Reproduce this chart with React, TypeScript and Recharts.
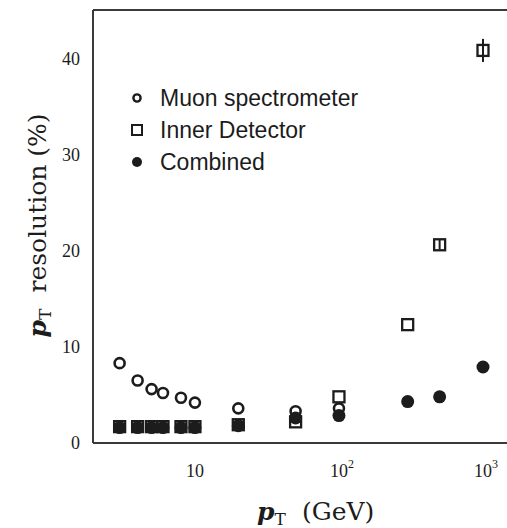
import {
  ErrorBar,
  ReferenceLine,
  Scatter,
  ScatterChart,
  XAxis,
  YAxis,
} from "recharts";

// transverse momentum (GeV) and resolution (%)
const msPt = [3, 4, 5, 6, 8, 10, 20, 50, 100];
const msRes = [8.3, 6.5, 5.6, 5.2, 4.7, 4.2, 3.6, 3.3, 3.6];

const idPt = [3, 4, 5, 6, 8, 10, 20, 50, 100, 300, 500, 1000];
const idRes = [1.7, 1.7, 1.7, 1.7, 1.7, 1.7, 1.9, 2.2, 4.8, 12.3, 20.6, 40.8];
const idErr = [0, 0, 0, 0, 0, 0, 0, 0, 0, 0, 0.5, 1.2];

const cbPt = [3, 4, 5, 6, 8, 10, 20, 50, 100, 300, 500, 1000];
const cbRes = [1.6, 1.6, 1.6, 1.6, 1.6, 1.6, 1.8, 2.6, 2.85, 4.3, 4.8, 7.9];

const xTicks = [10, 100, 1000];
const yTicks = [0, 10, 20, 30, 40];

const legendItems = [
  { name: "Muon spectrometer", kind: "open" },
  { name: "Inner Detector", kind: "square" },
  { name: "Combined", kind: "filled" },
];

const ms = msPt.map((pt, i) => ({ pt, res: msRes[i] }));
const id = idPt.map((pt, i) => ({ pt, res: idRes[i], err: idErr[i] }));
const cb = cbPt.map((pt, i) => ({ pt, res: cbRes[i] }));

const INK = "#1c1c1c";
const FRAME = "#3a3a3a";
const SERIF = "'Liberation Serif', 'Times New Roman', serif";
const TITLE = "'DejaVu Serif', serif";

function OpenCircle({ cx, cy }: any) {
  return <circle cx={cx} cy={cy} r={5} fill="none" stroke={INK} strokeWidth={2.6} />;
}

function OpenSquare({ cx, cy }: any) {
  return (
    <rect x={cx - 5.5} y={cy - 5.5} width={11} height={11} fill="none" stroke={INK} strokeWidth={2.3} />
  );
}

function FilledCircle({ cx, cy }: any) {
  return <circle cx={cx} cy={cy} r={6.5} fill={INK} />;
}

function XTick({ x, y, payload }: any) {
  const exp = Math.round(Math.log10(payload.value));
  return (
    <text x={x - 9} y={y} dy={32} fill={INK} fontFamily={SERIF} fontSize={18}>
      10
      {exp > 1 && (
        <tspan dy={-9} fontSize={12}>
          {exp}
        </tspan>
      )}
    </text>
  );
}

function XTitle({ viewBox }: any) {
  const x0 = viewBox.x + viewBox.width / 2 - 43;
  const y0 = viewBox.y + 77;
  return (
    <text x={x0} y={y0} fill={INK} fontFamily={TITLE} fontSize={25}>
      <tspan fontStyle="italic" fontWeight="bold">p</tspan>
      <tspan fontSize={17} dy={5}>T</tspan>
      <tspan x={x0 + 45} dy={-5}>(GeV)</tspan>
    </text>
  );
}

function YTitle({ viewBox }: any) {
  const cx = viewBox.x + 46;
  const cy = viewBox.y + viewBox.height / 2 + 111;
  return (
    <text transform={`translate(${cx},${cy}) rotate(-90)`} fill={INK} fontFamily={TITLE} fontSize={25}>
      <tspan fontStyle="italic" fontWeight="bold">p</tspan>
      <tspan fontSize={17} dy={5}>T</tspan>
      <tspan x={45} dy={-5}>resolution (%)</tspan>
    </text>
  );
}

function LegendBox() {
  return (
    <div
      style={{
        position: "absolute",
        left: 127,
        top: 82,
        fontFamily: "'Liberation Sans', Arial, sans-serif",
        fontSize: 23,
        color: INK,
      }}
    >
      {legendItems.map((item) => (
        <div key={item.name} style={{ display: "flex", alignItems: "center", height: 32 }}>
          <svg width={20} height={20} style={{ marginRight: 13 }}>
            {item.kind === "open" && (
              <circle cx={10} cy={10} r={3.6} fill="none" stroke={INK} strokeWidth={2.4} />
            )}
            {item.kind === "square" && (
              <rect x={5} y={5} width={10} height={10} fill="none" stroke={INK} strokeWidth={2} />
            )}
            {item.kind === "filled" && <circle cx={10} cy={10} r={5} fill={INK} />}
          </svg>
          <span>{item.name}</span>
        </div>
      ))}
    </div>
  );
}

export default function App() {
  return (
    <div
      style={{
        position: "absolute",
        left: 0,
        top: 0,
        width: 507,
        height: 528,
        overflow: "hidden",
        background: "#fff",
      }}
    >
      <ScatterChart width={507} height={528} margin={{ top: 10, right: 0, bottom: 0, left: 0 }}>
        <XAxis
          type="number"
          dataKey="pt"
          scale="log"
          domain={[1.96, 1468]}
          allowDataOverflow
          ticks={xTicks}
          tickLine={false}
          tickSize={0}
          height={85}
          axisLine={{ stroke: FRAME, strokeWidth: 2 }}
          tick={<XTick />}
          label={<XTitle />}
        />
        <YAxis
          type="number"
          dataKey="res"
          domain={[0, 45]}
          ticks={yTicks}
          width={93}
          tickLine={false}
          tickMargin={7}
          axisLine={{ stroke: FRAME, strokeWidth: 2 }}
          tick={{ fill: INK, fontFamily: SERIF, fontSize: 18 }}
          label={<YTitle />}
        />
        <ReferenceLine y={45} stroke={FRAME} strokeWidth={2} />
        <Scatter name="Muon spectrometer" data={ms} shape={<OpenCircle />} isAnimationActive={false} />
        <Scatter name="Inner Detector" data={id} shape={<OpenSquare />} isAnimationActive={false}>
          <ErrorBar dataKey="err" direction="y" width={0} stroke={INK} strokeWidth={2} />
        </Scatter>
        <Scatter name="Combined" data={cb} shape={<FilledCircle />} isAnimationActive={false} />
      </ScatterChart>
      <LegendBox />
    </div>
  );
}
